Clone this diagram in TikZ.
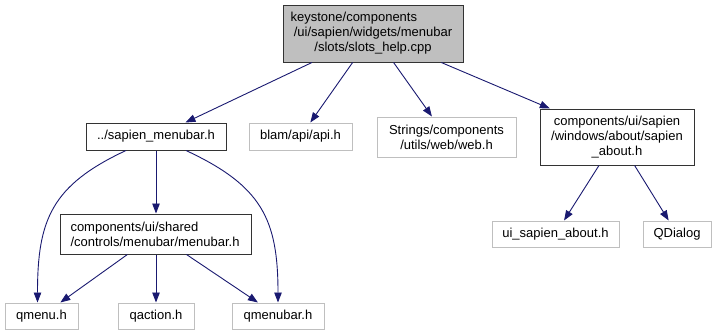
\documentclass[tikz,border=0pt]{standalone}
\usepackage{fontspec}
\setmainfont{Liberation Sans}
\usetikzlibrary{arrows.meta,calc}
\definecolor{edgec}{HTML}{191970}
\definecolor{grayb}{HTML}{BFBFBF}
\definecolor{rootfill}{HTML}{BFBFBF}
\definecolor{docb}{HTML}{333333}
\begin{document}
\begin{tikzpicture}[x=1pt,y=-1pt,
 box/.style={draw=docb, line width=1pt, inner sep=0pt, align=center, fill=white,
   font=\fontsize{13pt}{15pt}\selectfont},
 ext/.style={box, draw=grayb},
 rootbox/.style={box, fill=rootfill},
 edge/.style={draw=edgec, line width=0.9pt, -{Triangle[length=10pt,width=7.5pt]}}]
\useasboundingbox (0,0) rectangle (717,335);
\node[rootbox, minimum width=180pt, minimum height=57pt] (root) at (373,33.5)
  {keystone/components\hphantom{/ui/sap}\\/ui/sapien/widgets/menubar\\/slots/slots\_help.cpp};
\node[box, minimum width=140pt, minimum height=27pt] (smb) at (156,136.5) {../sapien\_menubar.h};
\node[ext, minimum width=103pt, minimum height=27pt] (blam) at (300.5,136.5) {blam/api/api.h};
\node[ext, minimum width=139pt, minimum height=40pt] (web) at (446.5,137) {Strings/components\\/utils/web/web.h};
\node[box, minimum width=154pt, minimum height=56pt] (win) at (617,137) {components/ui/sapien\\/windows/about/sapien\\\_about.h};
\node[box, minimum width=191pt, minimum height=40pt, align=left, text width=171pt] (mb) at (156,234) {components/ui/shared\\/controls/menubar/menubar.h};
\node[ext, minimum width=73pt, minimum height=26pt] (qmenu) at (41.5,316) {qmenu.h};
\node[ext, minimum width=76pt, minimum height=26pt] (qaction) at (156,316) {qaction.h};
\node[ext, minimum width=92pt, minimum height=26pt] (qmenubar) at (278,316) {qmenubar.h};
\node[ext, minimum width=127pt, minimum height=26pt] (uisa) at (555.5,234) {ui\_sapien\_about.h};
\node[ext, minimum width=68pt, minimum height=26pt] (qdialog) at (677,234) {QDialog};
\draw[edge] (root) -- (smb);
\draw[edge] (root) -- (blam);
\draw[edge] (root) -- (web);
\draw[edge] (root) -- (win);
\draw[edge] (smb) -- (mb);
\draw[edge] (smb) to[out=205,in=90,looseness=1.2] ($(qmenu.north)+(-4,0)$);
\draw[edge] (smb) to[out=-25,in=90,looseness=1.2] (qmenubar.north);
\draw[edge] (mb) -- (qmenu);
\draw[edge] (mb) -- (qaction);
\draw[edge] (mb) -- (qmenubar);
\draw[edge] (win) -- (uisa);
\draw[edge] (win) -- (qdialog);
\end{tikzpicture}
\end{document}
